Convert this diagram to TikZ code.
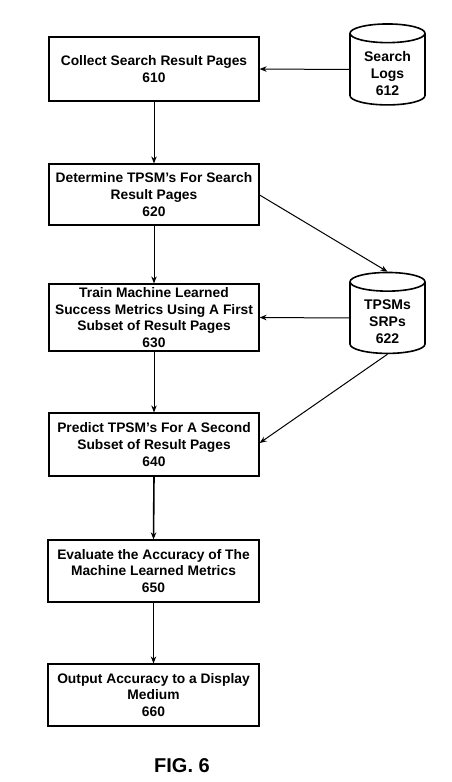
\documentclass[tikz,border=0pt]{standalone}
\usepackage{fontspec}
\setmainfont{Liberation Sans}
\usetikzlibrary{shapes.geometric,arrows.meta}
\begin{document}
\begin{tikzpicture}[x=1pt,y=-1pt,
  stepbox/.style={draw, line width=1.2pt, minimum width=210pt, minimum height=63pt, align=center, font=\bfseries\fontsize{13.8}{16.7}\selectfont, inner sep=1pt},
  store/.style={draw, line width=1.6pt, cylinder, shape border rotate=90, aspect=0.4, minimum width=75pt, minimum height=79pt, align=center, font=\bfseries\fontsize{14}{17}\selectfont, inner sep=0pt},
  arr/.style={line width=1pt, -{Stealth[length=7pt,width=5.5pt]}}]
\useasboundingbox (0,0) rectangle (451,782);
\node[stepbox, minimum height=64pt] (s610) at (154,69) {Collect Search Result Pages\\610};
\node[stepbox, minimum height=61pt] (s620) at (154,194.5) {Determine TPSM's For Search\\Result Pages\\620};
\node[stepbox, minimum height=67pt] (s630) at (154,317.5) {Train Machine Learned\\Success Metrics Using A First\\Subset of Result Pages\\630};
\node[stepbox] (s640) at (154,444.5) {Predict TPSM's For A Second\\Subset of Result Pages\\640};
\node[stepbox, minimum height=62pt, minimum width=211pt] (s650) at (153.5,571) {Evaluate the Accuracy of The\\Machine Learned Metrics\\650};
\node[stepbox, minimum height=62pt, minimum width=211pt] (s660) at (153.5,695) {Output Accuracy to a Display\\Medium\\660};
\node[store] (d612) at (387.5,69.5) {\rule{0pt}{18pt}Search\\Logs\\612};
\node[store] (d622) at (387.5,318) {\rule{0pt}{18pt}TPSMs\\SRPs\\622};
\node[font=\bfseries\fontsize{20}{24}\selectfont] (fig) at (182,766) {FIG. 6};
\draw[arr] (d612.west) -- (s610.east);
\draw[arr] (s610.south) -- (s620.north);
\draw[arr] (s620.south) -- (s630.north);
\draw[arr] (s630.south) -- (s640.north);
\draw[arr, line width=1.6pt] (s640.south) -- (s650.north);
\draw[arr] (s650.south) -- (s660.north);
\draw[arr] (d622.west) -- (s630.east);
\draw[arr] (s620.east |- 0,195) -- (d622.top);
\draw[arr] (d622.bottom) -- (s640.east |- 0,443);
\end{tikzpicture}
\end{document}
